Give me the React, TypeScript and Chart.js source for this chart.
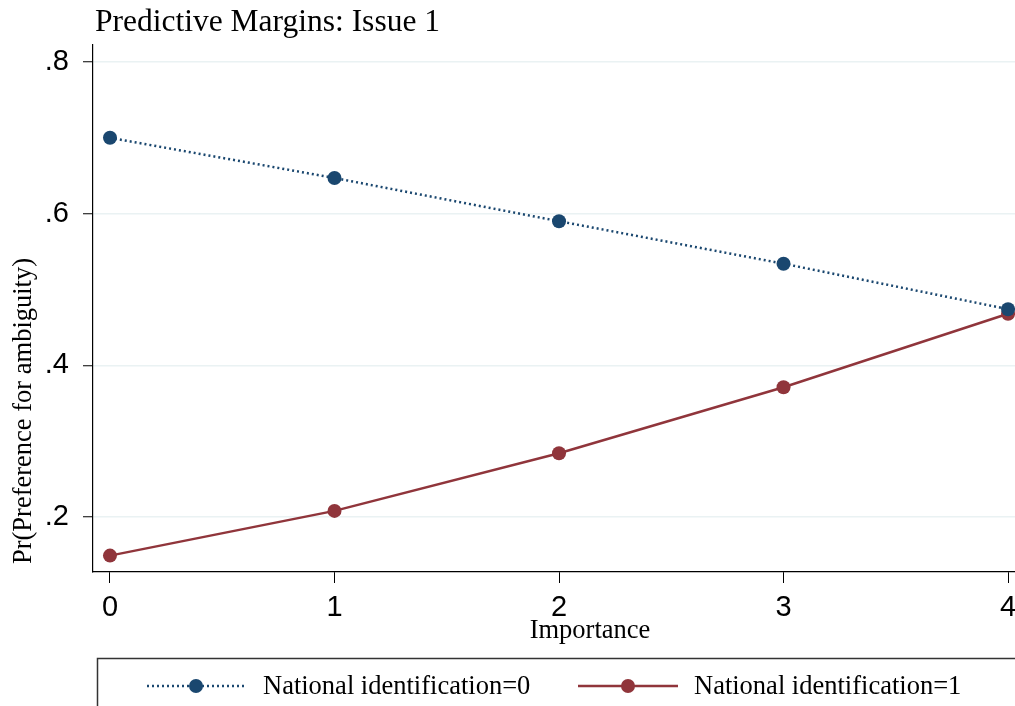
import React, { useEffect, useRef } from "react";
import { Chart, registerables } from "chart.js";

Chart.register(...registerables);

const categories = [0, 1, 2, 3, 4];
const natId0 = [0.7, 0.647, 0.59, 0.534, 0.474];
const natId1 = [0.149, 0.208, 0.284, 0.371, 0.468];
const yTicks = [0.2, 0.4, 0.6, 0.8];
const yTickLabels = [".2", ".4", ".6", ".8"];
const xTicks = [0, 1, 2, 3, 4];
const seriesLabels = ["National identification=0", "National identification=1"];
const titleText = "Predictive Margins: Issue 1";
const xTitle = "Importance";
const yTitle = "Pr(Preference for ambiguity)";

const BLUE = "#1a476f";
const RED = "#90353b";
const SERIF = '"Liberation Serif", "Times New Roman", serif';
const SANS = '"Liberation Sans", Arial, sans-serif';

const textPlugin = {
  id: "stataText",
  afterDraw(chart: any) {
    const ctx = chart.ctx;
    ctx.save();
    ctx.fillStyle = "#000";
    // title
    ctx.font = `31.5px ${SERIF}`;
    ctx.textAlign = "left";
    ctx.textBaseline = "middle";
    ctx.fillText(titleText, 95, 23);
    // x title
    ctx.font = `26.5px ${SERIF}`;
    ctx.textAlign = "center";
    ctx.fillText(xTitle, 590, 631);
    // y title
    ctx.save();
    ctx.translate(24, 411);
    ctx.rotate(-Math.PI / 2);
    ctx.font = `26.5px ${SERIF}`;
    ctx.fillText(yTitle, 0, 0);
    ctx.restore();
    // legend box
    ctx.strokeStyle = "#333";
    ctx.lineWidth = 1.5;
    ctx.strokeRect(97.5, 658.5, 1000, 100);
    // legend items
    const items = [
      { x0: 147, x1: 245, mx: 196, tx: 263, color: BLUE, dash: [2, 3], label: seriesLabels[0] },
      { x0: 578, x1: 678, mx: 628, tx: 694, color: RED, dash: [], label: seriesLabels[1] },
    ];
    const ly = 686;
    for (const it of items) {
      ctx.strokeStyle = it.color;
      ctx.lineWidth = 2.5;
      ctx.setLineDash(it.dash);
      ctx.beginPath();
      ctx.moveTo(it.x0, ly);
      ctx.lineTo(it.x1, ly);
      ctx.stroke();
      ctx.setLineDash([]);
      ctx.fillStyle = it.color;
      ctx.beginPath();
      ctx.arc(it.mx, ly, 7, 0, Math.PI * 2);
      ctx.fill();
      ctx.fillStyle = "#000";
      ctx.font = `26.5px ${SERIF}`;
      ctx.textAlign = "left";
      ctx.textBaseline = "middle";
      ctx.fillText(it.label, it.tx, ly + 1);
    }
    ctx.restore();
  },
};

export default function App() {
  const ref = useRef<HTMLCanvasElement | null>(null);
  useEffect(() => {
    if (!ref.current) return;
    const chart = new Chart(ref.current, {
      type: "line",
      data: {
        datasets: [
          {
            label: seriesLabels[0],
            data: categories.map((x, i) => ({ x, y: natId0[i] })),
            borderColor: BLUE,
            backgroundColor: BLUE,
            borderWidth: 2.5,
            borderDash: [2, 3],
            pointRadius: 7,
            pointHoverRadius: 7,
            pointBorderWidth: 0,
            tension: 0,
            clip: false,
          },
          {
            label: seriesLabels[1],
            data: categories.map((x, i) => ({ x, y: natId1[i] })),
            borderColor: RED,
            backgroundColor: RED,
            borderWidth: 2.5,
            pointRadius: 7,
            pointHoverRadius: 7,
            pointBorderWidth: 0,
            tension: 0,
            clip: false,
          },
        ],
      },
      options: {
        responsive: false,
        animation: false,
        devicePixelRatio: 1,
        layout: { autoPadding: false, padding: { top: 45, left: 0, right: 0, bottom: 0 } },
        plugins: {
          legend: { display: false },
          title: { display: false },
          tooltip: { enabled: false },
        },
        scales: {
          x: {
            type: "linear",
            min: -0.0757,
            max: 4.031,
            afterBuildTicks: (s: any) => {
              s.ticks = xTicks.map((v) => ({ value: v }));
            },
            afterFit: (s: any) => {
              s.height = 134;
              s.paddingLeft = 0;
              s.paddingRight = 0;
            },
            ticks: {
              autoSkip: false,
              maxRotation: 0,
              color: "#000",
              padding: 8,
              font: { family: SANS, size: 29 },
              callback: (v: any) => String(v),
            },
            grid: {
              drawOnChartArea: false,
              tickLength: 11,
              tickColor: "#000",
              tickWidth: 1,
            },
            border: { display: true, color: "#000", width: 1.2 },
          },
          y: {
            type: "linear",
            min: 0.1274,
            max: 0.8224,
            afterBuildTicks: (s: any) => {
              s.ticks = yTicks.map((v) => ({ value: v }));
            },
            afterFit: (s: any) => {
              s.width = 93;
              s.paddingTop = 0;
              s.paddingBottom = 0;
            },
            ticks: {
              autoSkip: false,
              color: "#000",
              padding: 14,
              font: { family: SANS, size: 29 },
              callback: (v: any) => {
                const i = yTicks.findIndex((t) => Math.abs(t - v) < 1e-9);
                return i >= 0 ? yTickLabels[i] : "";
              },
            },
            grid: {
              color: "#eaf2f3",
              lineWidth: 1.5,
              tickLength: 10,
              tickColor: "#000",
              tickWidth: 1,
            },
            border: { display: true, color: "#000", width: 1.2 },
          },
        },
      },
      plugins: [textPlugin],
    } as any);
    return () => chart.destroy();
  }, []);
  return (
    <div style={{ position: "absolute", left: 0, top: 0, width: 1015, height: 706, background: "#fff" }}>
      <canvas ref={ref} width={1015} height={706} style={{ width: 1015, height: 706, display: "block" }} />
    </div>
  );
}
